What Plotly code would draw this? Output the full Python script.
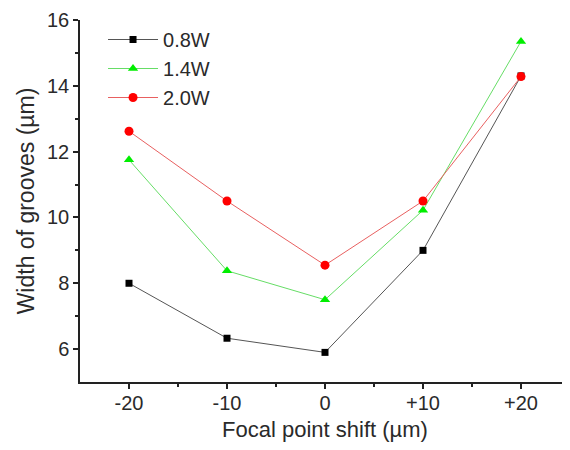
import plotly.graph_objects as go

x_labels = ["-20", "-10", "0", "+10", "+20"]
x_vals = [-20, -10, 0, 10, 20]
w08 = [8.0, 6.33, 5.9, 9.0, 14.3]
w14 = [11.75, 8.38, 7.5, 10.22, 15.35]
w20 = [12.62, 10.5, 8.55, 10.5, 14.28]

fig = go.Figure()
fig.add_trace(go.Scatter(x=x_vals, y=w08, name="0.8W", mode="lines+markers",
                         line=dict(color="#555555", width=1),
                         marker=dict(symbol="square", size=7, color="black")))
fig.add_trace(go.Scatter(x=x_vals, y=w14, name="1.4W", mode="lines+markers",
                         line=dict(color="#66dd66", width=1),
                         marker=dict(symbol="triangle-up", size=9, color="#00ee00")))
fig.add_trace(go.Scatter(x=x_vals, y=w20, name="2.0W", mode="lines+markers",
                         line=dict(color="#e86060", width=1),
                         marker=dict(symbol="circle", size=9, color="#ff0000")))

font = dict(family="Liberation Sans, Arial, sans-serif", size=20, color="#2a2a2a")
fig.update_layout(
    width=570, height=450,
    margin=dict(l=72, r=8, t=12, b=76),
    paper_bgcolor="white", plot_bgcolor="white",
    font=font,
    showlegend=True,
    legend=dict(x=0.047, y=1.0, xanchor="left", yanchor="top",
                bgcolor="rgba(0,0,0,0)", font=dict(size=20),
                tracegroupgap=0, itemwidth=50),
    xaxis=dict(range=[-25, 25], tickvals=x_vals, ticktext=x_labels,
               automargin=False, ticklabeloverflow="allow", ticklabelstandoff=-3,
               showline=True, linecolor="#222222", linewidth=1.5,
               ticks="outside", ticklen=5, tickwidth=1.5, tickcolor="#222222",
               minor=dict(tickvals=[-15, -5, 5, 15], ticks="outside", ticklen=3,
                          tickcolor="#222222", tickwidth=1.5),
               showgrid=False, zeroline=False,
               title=dict(text="Focal point shift (µm)", font=dict(size=22), standoff=9)),
    yaxis=dict(range=[5, 16], tickvals=[6, 8, 10, 12, 14, 16],
               automargin=False, ticklabeloverflow="allow",
               showline=True, linecolor="#222222", linewidth=1.5,
               ticks="outside", ticklen=5, tickwidth=1.5, tickcolor="#222222",
               minor=dict(tickvals=[7, 9, 11, 13, 15], ticks="outside", ticklen=3,
                          tickcolor="#222222", tickwidth=1.5),
               showgrid=False, zeroline=False,
               title=dict(text="Width of grooves (µm)", font=dict(size=23), standoff=6)),
)
fig.write_html("out.html")
